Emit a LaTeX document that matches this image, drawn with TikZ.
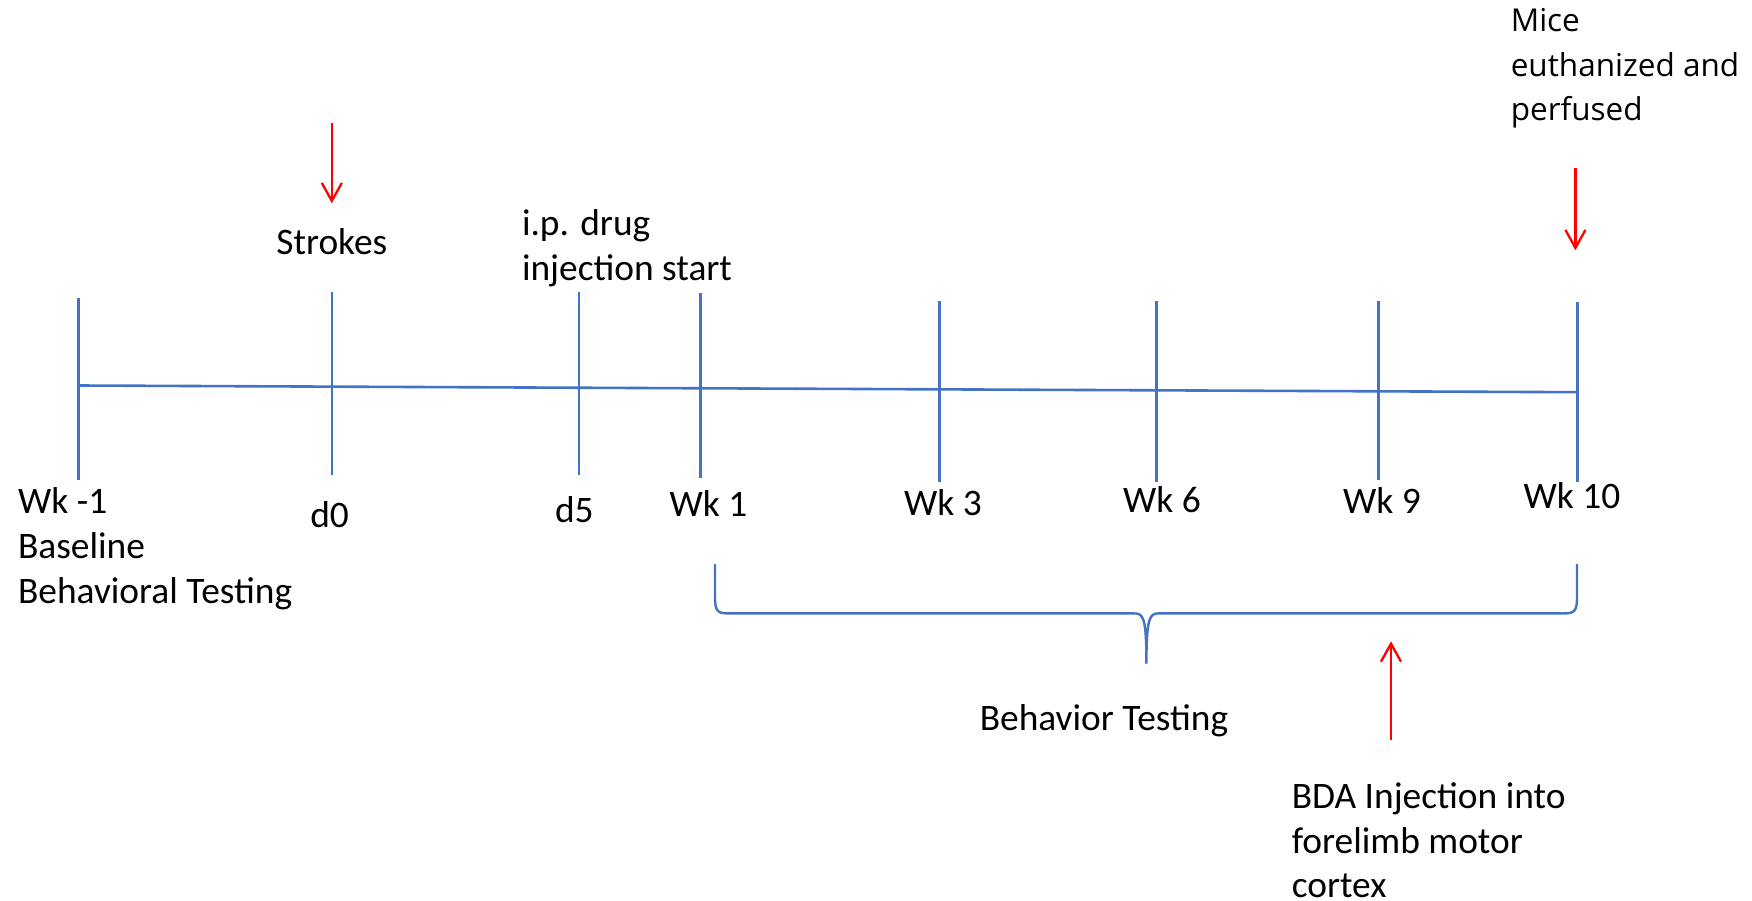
\documentclass[tikz,border=0pt]{standalone}
\usepackage{fontspec}
\setmainfont{Carlito}
\newfontfamily\micefont{Open Sans}
\usetikzlibrary{arrows.meta}
\definecolor{axisblue}{HTML}{4472C4}
\definecolor{arrred}{HTML}{FF0000}
\tikzset{
  axisline/.style={draw=axisblue, line width=2.6pt},
  redarrow/.style={draw=arrred, line width=2.3pt, -{Straight Barb[length=18pt,width=20pt,line width=2.3pt]}},
  lbl/.style={inner sep=0pt, font=\fontsize{37.4}{44.7}\selectfont},
  lblL/.style={lbl, align=left, anchor=west},
}
\begin{document}
\begin{tikzpicture}[x=1pt,y=-1pt]
\useasboundingbox (0,0) rectangle (1752,901);
% axis
\coordinate (axL) at (78.2,385.5);
\coordinate (axR) at (1577.6,392.2);
\draw[axisline] (axL) -- (axR);
% ticks
\coordinate (t1a) at (78.2,298); \coordinate (t1b) at (78.2,480);
\coordinate (t2a) at (331.8,291.6); \coordinate (t2b) at (331.8,474.9);
\coordinate (t3a) at (578.8,291.6); \coordinate (t3b) at (578.8,474.9);
\coordinate (t4a) at (700.6,292.7); \coordinate (t4b) at (700.6,478.2);
\coordinate (t5a) at (939.6,300.6); \coordinate (t5b) at (939.6,481.6);
\coordinate (t6a) at (1156.4,300.6); \coordinate (t6b) at (1156.4,481.6);
\coordinate (t7a) at (1378.7,300.6); \coordinate (t7b) at (1378.7,480.4);
\coordinate (t8a) at (1577.6,301.7); \coordinate (t8b) at (1577.6,481.6);
\foreach \i in {1,...,8} {\draw[axisline] (t\i a) -- (t\i b);}
% labels below ticks
\node[lblL] (wkm1) at (17.9,548.6) {Wk -1\\Baseline\\Behavioral Testing};
\node[lbl] (d0) at (329.6,515) {d0};
\node[lbl] (d5) at (574.3,509.5) {d5};
\node[lbl] (wk1) at (708.4,503.9) {Wk 1};
\node[lbl] (wk3) at (943,502.8) {Wk 3};
\node[lbl] (wk6) at (1162,499.4) {Wk 6};
\node[lbl] (wk9) at (1382,500.6) {Wk 9};
\node[lbl] (wk10) at (1572,496) {Wk 10};
% labels above
\node[lbl] (strokes) at (331.8,241.3) {Strokes};
\node[lblL] (ip) at (521.8,248) {i.p. drug\\injection start};
\node[lblL, font=\micefont\fontsize{31.5}{44.7}\selectfont] (mice) at (1510.6,68.5) {Mice\\euthanized and\\perfused};
% red arrows
\coordinate (sA) at (331.8,122.9); \coordinate (sB) at (331.8,203.3);
\draw[redarrow] (sA) -- (sB);
\coordinate (mA) at (1575.4,167.6); \coordinate (mB) at (1575.4,250.3);
\draw[redarrow] (mA) -- (mB);
\coordinate (bA) at (1391,739.7); \coordinate (bB) at (1391,641.3);
\draw[redarrow] (bA) -- (bB);
% brace
\coordinate (brL) at (715,564);
\coordinate (brR) at (1577,564);
\coordinate (brM) at (1146.4,663.7);
\draw[axisline, line width=2.4pt] (brL) -- (715,597) .. controls (715,612) and (718,613.4) .. (729,613.4)
  -- (1134,613.4) .. controls (1143,613.4) and (1146.4,616) .. (brM)
  .. controls (1146.4,616) and (1150,613.4) .. (1159,613.4)
  -- (1563,613.4) .. controls (1574,613.4) and (1577,612) .. (1577,597) -- (brR);
\node[lbl] (bt) at (1104,720.7) {Behavior Testing};
\node[lblL] (bda) at (1291.6,840.2) {BDA Injection into\\forelimb motor\\cortex};
\end{tikzpicture}
\end{document}
